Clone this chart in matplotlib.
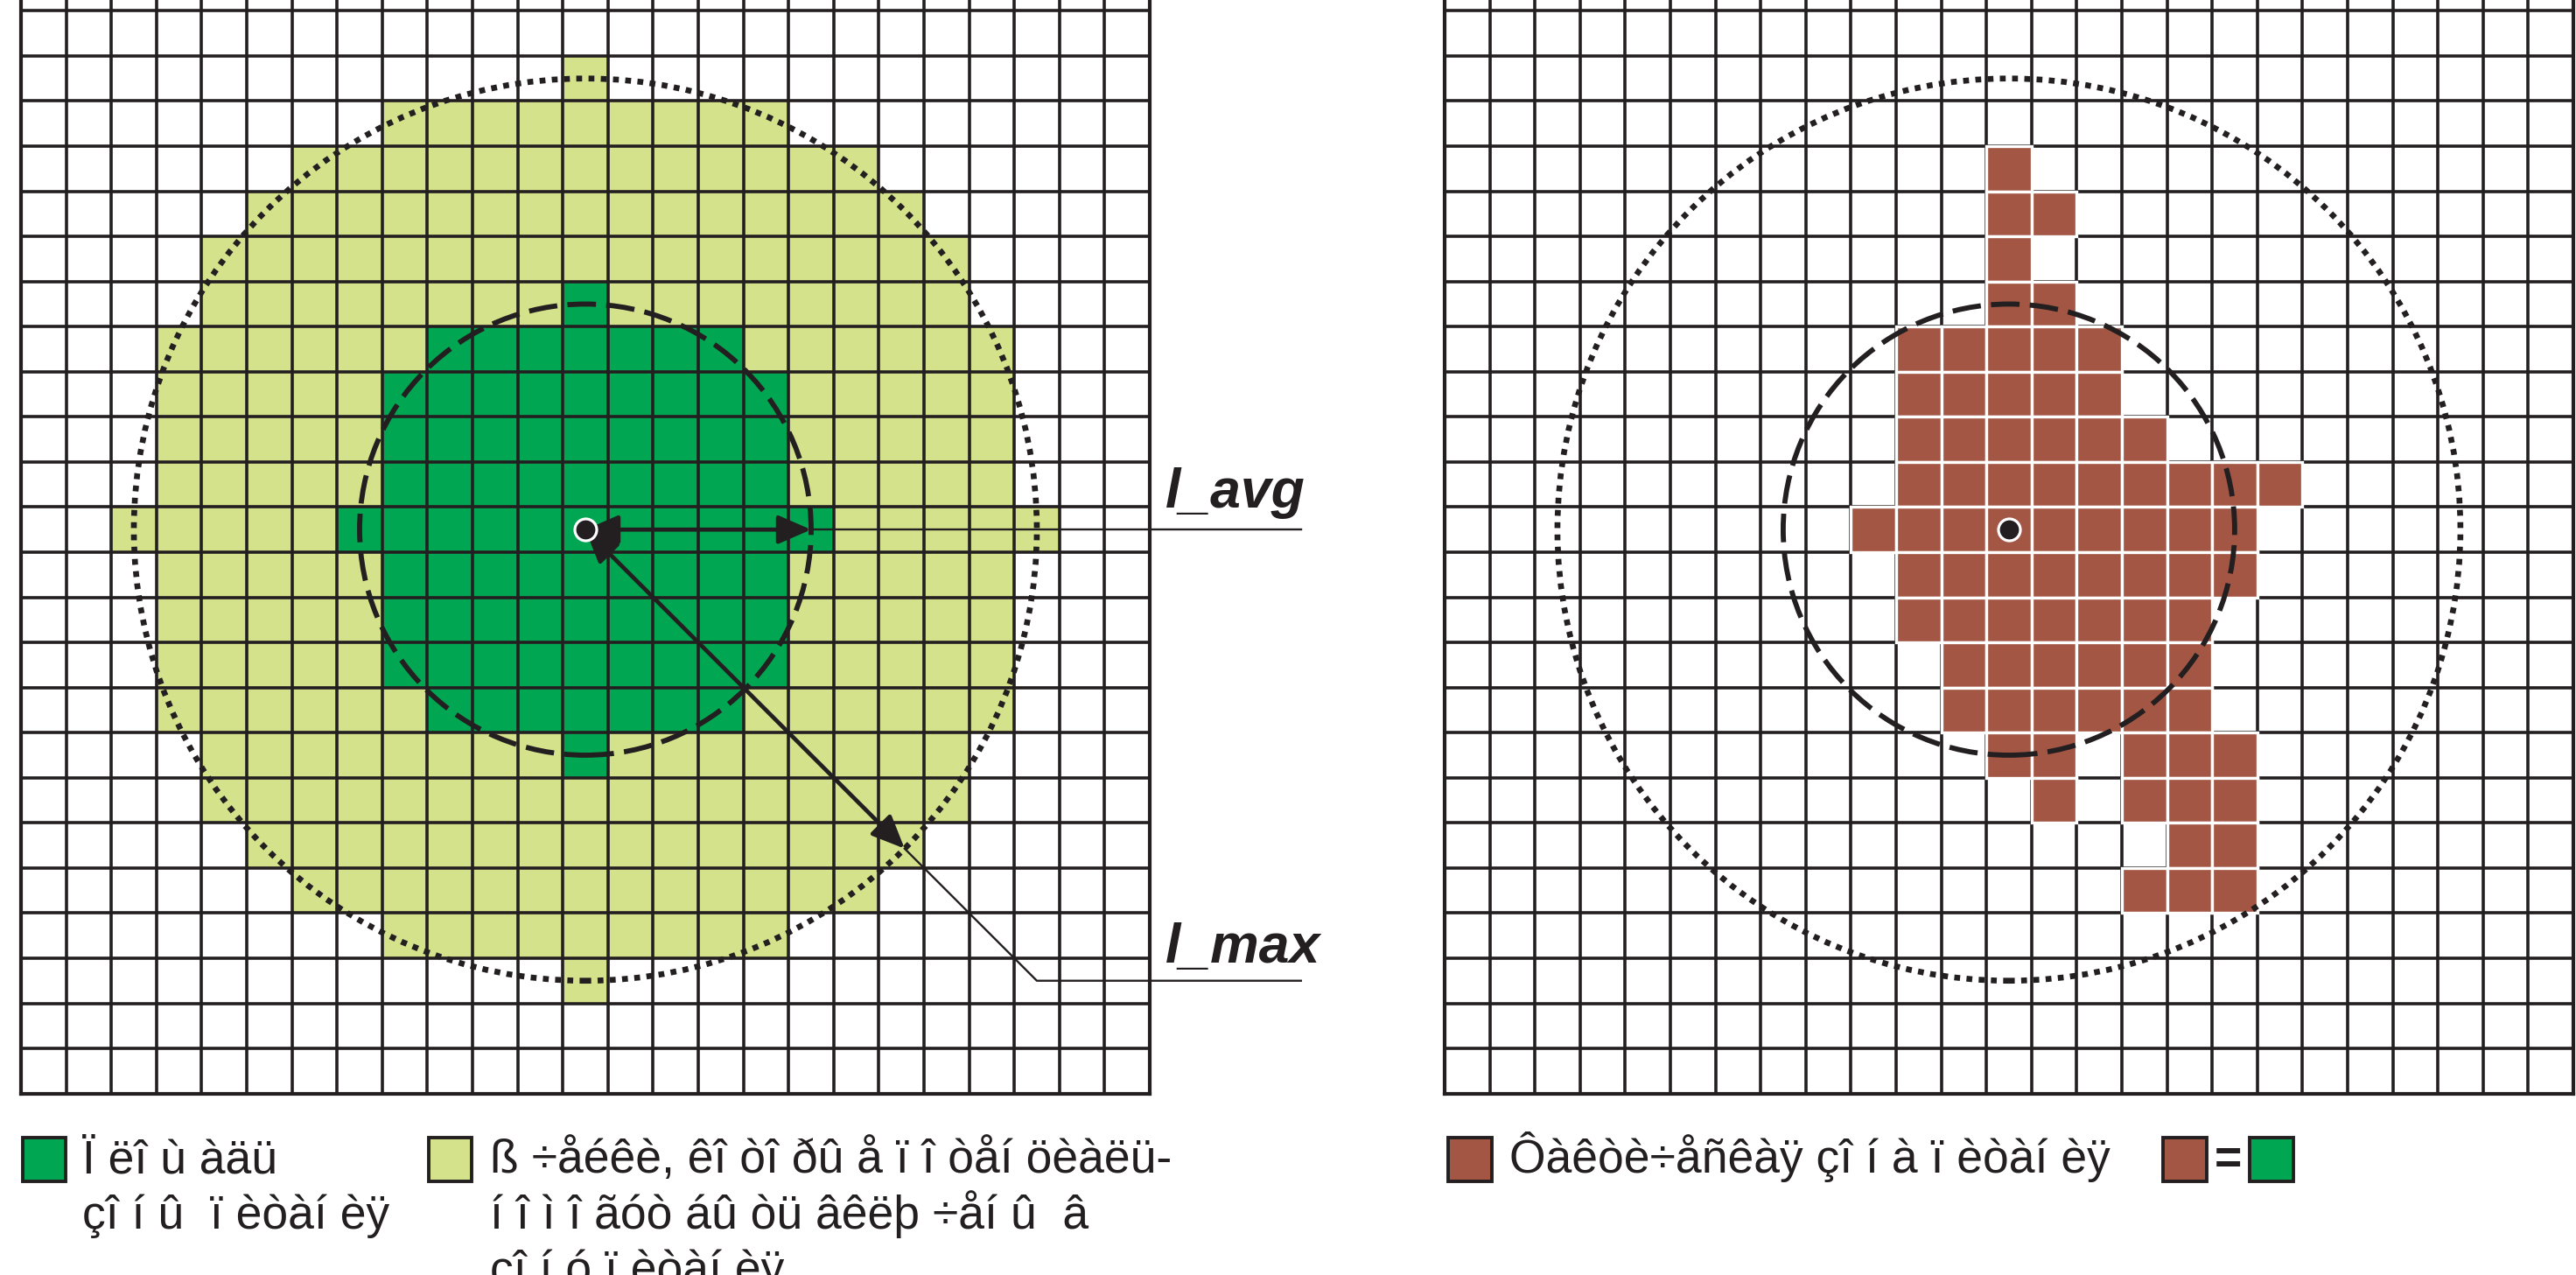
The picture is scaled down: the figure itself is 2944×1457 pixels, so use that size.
import matplotlib
matplotlib.use("Agg")
import matplotlib.pyplot as plt
from matplotlib.patches import Rectangle, Circle, FancyArrowPatch

plt.rcParams["font.family"] = ["Liberation Sans", "DejaVu Sans"]

INK = "#231f20"
DARK_GREEN = "#00a651"
LIGHT_GREEN = "#d4e28c"
BROWN = "#a25643"

N = 25                 # cells per side
CENTER = (12, 12)      # (row from top, column)
R_MAX = 10             # dotted circle radius, cells
R_AVG = 5              # dashed circle radius, cells
X_RIGHT = 31.53        # left edge of the right grid, in cell units

# potential supply zone (light green): rows and first/last column per row
POT_ROWS = list(range(2, 23))
POT_START = [12, 8, 6, 5, 4, 4, 3, 3, 3, 3, 2, 3, 3, 3, 3, 4, 4, 5, 6, 8, 12]
POT_END = [12, 16, 18, 19, 20, 20, 21, 21, 21, 21, 22, 21, 21, 21, 21, 20, 20, 19, 18, 16, 12]

# supply area (dark green)
AREA_ROWS = list(range(7, 18))
AREA_START = [12, 9, 8, 8, 8, 7, 8, 8, 8, 9, 12]
AREA_END = [12, 15, 16, 16, 16, 17, 16, 16, 16, 15, 12]

# actual supply zone (brown): (row, first col, last col)
FACT_SEGS = [(4, 12, 12), (5, 12, 13), (6, 12, 12), (7, 12, 13),
             (8, 10, 14), (9, 10, 14), (10, 10, 15), (11, 10, 18),
             (12, 9, 17), (13, 10, 17), (14, 10, 16), (15, 11, 16),
             (16, 11, 16), (17, 12, 13), (17, 15, 17), (18, 13, 13),
             (18, 15, 17), (19, 16, 17), (20, 15, 17)]

LEG_AREA = ["Ï ëî ù àäü", "çî í û  ï èòàí èÿ"]
LEG_POT = ["ß ÷åéêè, êî òî ðû å ï î òåí öèàëü-",
           "í î ì î ãóò áû òü âêëþ ÷åí û  â",
           "çî í ó ï èòàí èÿ"]
LEG_FACT = ["Ôàêòè÷åñêàÿ çî í à ï èòàí èÿ"]

FS = 38.5


def cell(ax, row, col, x0, **kw):
    ax.add_patch(Rectangle((x0 + col, N - 1 - row), 1, 1, **kw))


def draw_grid(ax, x0):
    for i in range(N + 1):
        lw = 3.0 if i in (0, N) else 2.6
        ax.plot([x0 + i, x0 + i], [0, N], color=INK, lw=lw, zorder=2,
                solid_capstyle="projecting")
        ax.plot([x0, x0 + N], [i, i], color=INK, lw=lw, zorder=2,
                solid_capstyle="projecting")


def draw_circles(ax, cx, cy):
    ax.add_patch(Circle((cx, cy), R_MAX, fill=False, color=INK, lw=4.8,
                        ls=(0, (1.0, 1.1)), zorder=4))
    ax.add_patch(Circle((cx, cy), R_AVG, fill=False, color=INK, lw=4.2,
                        ls=(0, (5.6, 2.0)), zorder=4))


def draw_dot(ax, cx, cy):
    ax.plot(cx, cy, "o", ms=18, mfc=INK, mec="white", mew=2.3, zorder=7)


def legend_box(ax, x, color):
    ax.add_patch(Rectangle((x + 0.03, -1.94), 0.96, 0.96, facecolor=color,
                           edgecolor=INK, lw=2.8, zorder=3))


def legend_text(ax, x, lines):
    for k, s in enumerate(lines):
        ax.text(x, -1.76 - 1.23 * k, s, fontsize=FS, color=INK,
                va="baseline", ha="left")


fig = plt.figure(figsize=(29.44, 14.57), dpi=100)
ax = fig.add_axes([0, 0, 1, 1])
ax.set_xlim(-0.465, 56.59)
ax.set_ylim(-4.023, 24.24)
ax.axis("off")

# ---- left panel ----
for r, a, b in zip(POT_ROWS, POT_START, POT_END):
    for c in range(a, b + 1):
        cell(ax, r, c, 0, facecolor=LIGHT_GREEN, lw=0, zorder=1)
for r, a, b in zip(AREA_ROWS, AREA_START, AREA_END):
    for c in range(a, b + 1):
        cell(ax, r, c, 0, facecolor=DARK_GREEN, lw=0, zorder=1.5)
draw_grid(ax, 0)

cx, cy = CENTER[1] + 0.5, N - 1 - CENTER[0] + 0.5
draw_circles(ax, cx, cy)

style = "<|-|>,head_length=1.15,head_width=0.5"
d = R_MAX / 2 ** 0.5
ax.add_patch(FancyArrowPatch((cx, cy), (cx + R_AVG, cy), arrowstyle=style,
                             mutation_scale=20, color=INK, lw=3.4,
                             shrinkA=0, shrinkB=0, zorder=6))
ax.add_patch(FancyArrowPatch((cx, cy), (cx + d, cy - d), arrowstyle=style,
                             mutation_scale=20, color=INK, lw=3.4,
                             shrinkA=0, shrinkB=0, zorder=6))
# leader lines to labels
ax.plot([cx + R_AVG, 28.35], [cy, cy], color=INK, lw=1.7, zorder=5)
ax.plot([cx + d, cx + R_MAX, 28.35], [cy - d, cy - R_MAX, cy - R_MAX],
        color=INK, lw=1.7, zorder=5)
ax.text(25.35, 12.99, "l_avg", fontsize=45, fontweight="bold",
        fontstyle="italic", color=INK, va="baseline")
ax.text(25.35, 2.90, "l_max", fontsize=45, fontweight="bold",
        fontstyle="italic", color=INK, va="baseline")
draw_dot(ax, cx, cy)

# ---- right panel ----
draw_grid(ax, X_RIGHT)
for r, a, b in FACT_SEGS:
    for c in range(a, b + 1):
        cell(ax, r, c, X_RIGHT, facecolor=BROWN, edgecolor="white",
             lw=2.4, zorder=3)
rcx = X_RIGHT + cx
draw_circles(ax, rcx, cy)
draw_dot(ax, rcx, cy)

# ---- legends ----
legend_box(ax, 0, DARK_GREEN)
legend_text(ax, 1.36, LEG_AREA)
legend_box(ax, 9, LIGHT_GREEN)
legend_text(ax, 10.39, LEG_POT)
legend_box(ax, X_RIGHT + 0.05, BROWN)
legend_text(ax, X_RIGHT + 1.43, LEG_FACT)
legend_box(ax, X_RIGHT + 15.89, BROWN)
ax.text(X_RIGHT + 17.36, -1.76, "=", fontsize=FS, fontweight="bold",
        color=INK, ha="center", va="baseline")
legend_box(ax, X_RIGHT + 17.81, DARK_GREEN)

fig.savefig("out.png", dpi=100)
